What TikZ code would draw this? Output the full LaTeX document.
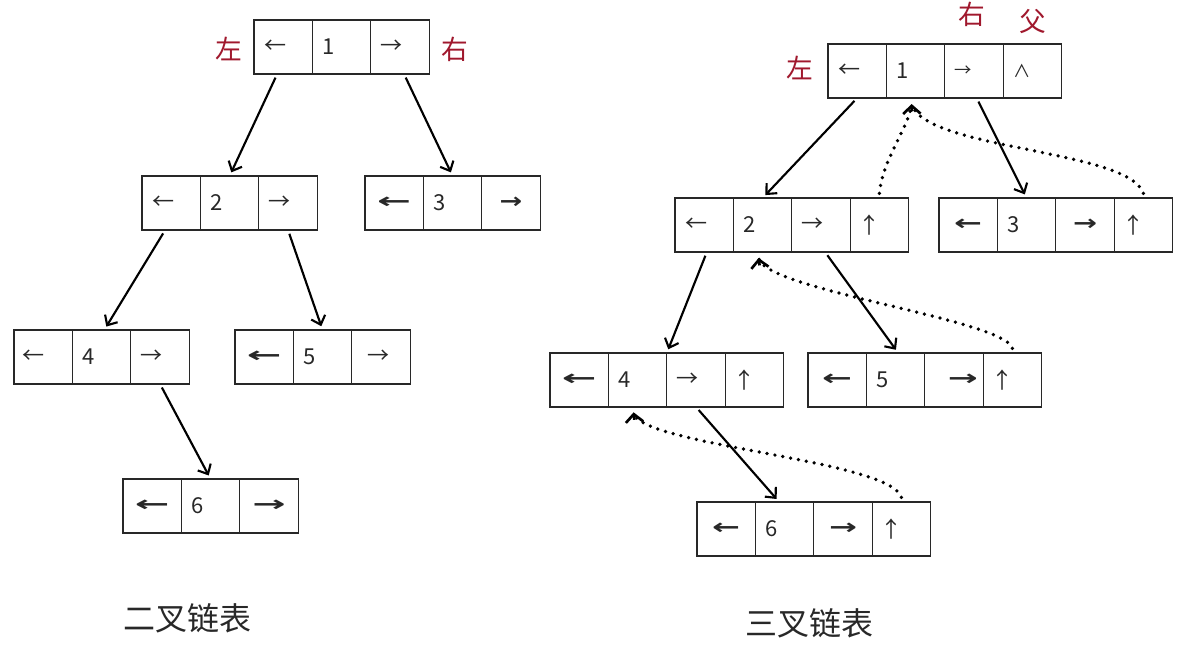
\documentclass[tikz,border=0pt]{standalone}
\usepackage{graphicx}
\usepackage{fontspec}
\setmainfont{Noto Sans CJK SC}
\newfontfamily\arrfont{DejaVu Sans}
\usetikzlibrary{arrows.meta}
\definecolor{lblred}{RGB}{160,24,45}
\definecolor{ink}{RGB}{40,40,40}
\newlength\cw \setlength\cw{43.8pt}
\newcommand\lcell[2][7.5pt]{\makebox[\cw][l]{\hspace*{#1}#2}}
\newcommand\ccell[1]{\makebox[\cw]{#1}}
\newcommand\bl[1][25pt]{\resizebox{#1}{\height}{\arrfont\fontsize{16}{18}\selectfont\bfseries ←}}
\newcommand\br[1][25pt]{\resizebox{#1}{\height}{\arrfont\fontsize{16}{18}\selectfont\bfseries →}}
\newcommand\recthree[5]{%
  \node[cell,anchor=north west] (#1a) at (#2) {#3};
  \node[cell,anchor=west] (#1b) at (#1a.east) {#4};
  \node[cell,anchor=west] (#1c) at (#1b.east) {#5};}
\newcommand\recfour[6]{%
  \recthree{#1}{#2}{#3}{#4}{#5}%
  \node[cell,anchor=west] (#1d) at (#1c.east) {#6};}
\begin{document}
\begin{tikzpicture}[x=0.75pt,y=-0.75pt,
  cell/.style={draw=ink, line width=1pt, inner sep=0pt, outer sep=0pt,
    minimum height=40.5pt, font=\fontsize{16.5}{18}\selectfont, text=ink},
  redlbl/.style={text=lblred, font=\fontsize{20}{22}\selectfont, inner sep=0pt},
  caption/.style={text=ink, font=\fontsize{24}{26}\selectfont, inner sep=0pt},
  link/.style={draw=black, line width=1.6pt,
    -{Straight Barb[length=6pt,width=11pt]}, shorten <=3pt, shorten >=3pt},
  parent/.style={draw=black, line width=2.8pt, dash pattern=on 0pt off 6pt,
    line cap=round},
  ptip/.style={draw=black, line width=2pt,
    -{Straight Barb[length=6pt,width=13pt]}}]
\useasboundingbox (0,0) rectangle (1187,660);

% ---------- binary linked list ----------
\recthree{L1}{254,20}{\lcell{←}}{\lcell{1}}{\lcell{→}}
\recthree{L2}{142,176}{\lcell{←}}{\lcell{2}}{\lcell{→}}
\recthree{L3}{365,176}{\ccell{\bl[25.5pt]}}{\lcell{3}}{\ccell{\br[17pt]}}
\recthree{L4}{14,330}{\lcell[6pt]{←}}{\lcell{4}}{\lcell{→}}
\recthree{L5}{235,330}{\ccell{\bl[26pt]}}{\lcell{5}}{\lcell[12pt]{→}}
\recthree{L6}{123,479}{\ccell{\bl[26pt]}}{\lcell{6}}{\ccell{\br[25pt]}}

\node[redlbl] (lz) at (228.5,49) {左};
\node[redlbl] (ly) at (454.5,49) {右};

\draw[link] ([xshift=-4.5pt]L1a.south) -- (L2b.north);
\draw[link] ([xshift=3pt]L1c.south) -- (L3b.north);
\draw[link] ([xshift=-4.5pt]L2a.south) -- ([xshift=2pt]L4b.north);
\draw[link] (L2c.south) -- (L5b.north);
\draw[link] (L4c.south) -- (L6b.north);

\node[caption] (cap1) at (187,618) {二叉链表};

% ---------- trinary linked list ----------
\recfour{R1}{828,44}{\lcell{←}}{\lcell{1}}{\lcell{\fontsize{13}{15}\selectfont →}}{\lcell{\fontsize{13}{15}\selectfont ∧}}
\recfour{R2}{675,198}{\lcell{←}}{\lcell{2}}{\lcell{→}}{\lcell[6pt]{↑}}
\recfour{R3}{939,198}{\ccell{\bl[21pt]}}{\lcell{3}}{\ccell{\br[18pt]}}{\lcell[6pt]{↑}}
\recfour{R4}{550,353}{\ccell{\bl[26pt]}}{\lcell{4}}{\lcell{→}}{\lcell[6pt]{↑}}
\recfour{R5}{808,353}{\ccell{\bl[22.5pt]}}{\lcell{5}}{\makebox[\cw][r]{\br[22.5pt]\hspace*{4pt}}}{\lcell[6pt]{↑}}
\recfour{R6}{697,502}{\ccell{\bl[21pt]}}{\lcell{6}}{\ccell{\br[21pt]}}{\lcell[6pt]{↑}}

\node[redlbl] (rz) at (800,67.5) {左};
\node[redlbl] (ry) at (971.5,14.5) {右};
\node[redlbl] (rf) at (1032.5,21.5) {父};

\draw[link] (R1a.south) -- (R2b.north);
\draw[link] ([xshift=2pt]R1c.south) -- (R3b.north);
\draw[link] ([xshift=2pt]R2a.south) -- (R4b.north east);
\draw[link] ([xshift=3pt]R2c.south) -- ([xshift=2pt]R5b.north);
\draw[link] (R4c.south) -- ([xshift=-4pt]R6b.north);

% parent pointers (dotted), with solid tips
\draw[parent] ([yshift=3.5pt]R2d.north) .. controls +(3,-34) and +(-2,22) .. ([shift={(-3pt,-4.5pt)}]R1b.south);
\draw[parent] ([yshift=3.5pt]R3d.north) .. controls +(-14,-44) and +(13,46) .. ([shift={(-3pt,-4.5pt)}]R1b.south);
\draw[ptip] ([shift={(-3pt,-4.5pt)}]R1b.south) ++(0.2,7.5) -- ++(-0.2,-7.5);
\draw[parent] ([yshift=3.5pt]R5d.north) .. controls +(-8,-29) and +(5,32) .. ([shift={(-3pt,-4.5pt)}]R2b.south);
\draw[ptip] ([shift={(-3pt,-4.5pt)}]R2b.south) ++(1,7.4) -- ++(-1,-7.4);
\draw[parent] ([yshift=3.5pt]R6d.north) .. controls +(-12,-38) and +(3,33) .. ([shift={(-3pt,-4pt)}]R4b.south);
\draw[ptip] ([shift={(-3pt,-4pt)}]R4b.south) ++(0.7,7.5) -- ++(-0.7,-7.5);

\node[caption] (cap2) at (809.5,623) {三叉链表};
\end{tikzpicture}
\end{document}
